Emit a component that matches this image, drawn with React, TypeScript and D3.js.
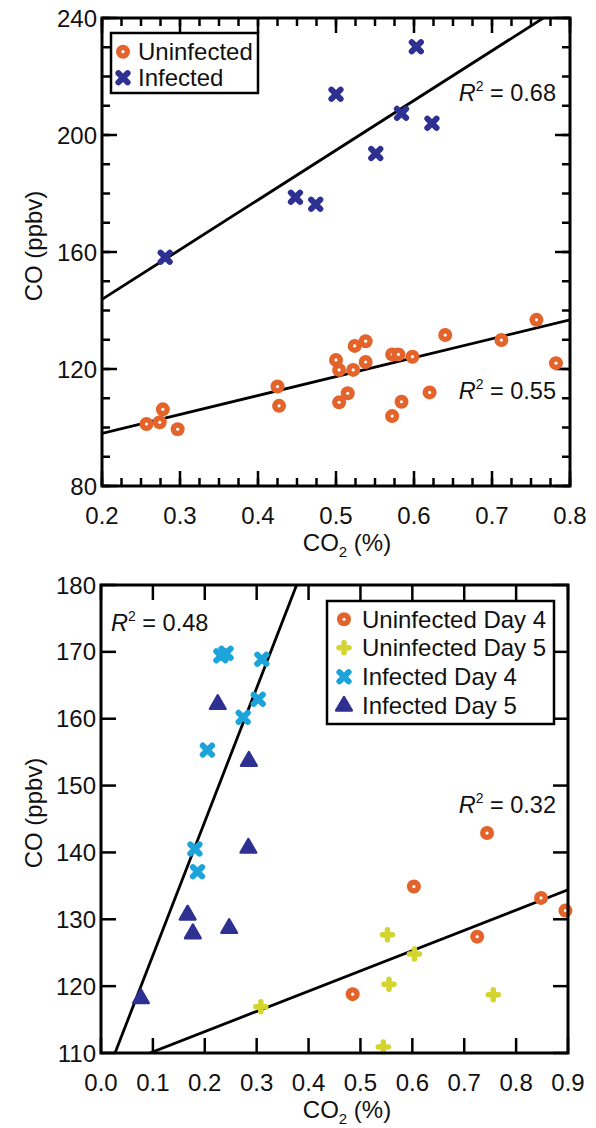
import React from 'react';
import * as d3 from 'd3';

const FONT = '"Liberation Sans", Arial, Helvetica, sans-serif';
const ORANGE = '#E4632B';
const NAVY = '#2E3192';
const CYAN = '#1BA3DA';
const YELLOW = '#D3D52E';

type Pt = [number, number];

// ---- top panel data (CO2 %, CO ppbv)
const uninfected: Pt[] = [
  [0.257, 101.2], [0.274, 101.8], [0.278, 106.2], [0.297, 99.4],
  [0.425, 114.0], [0.427, 107.4], [0.5, 123.1], [0.504, 119.7],
  [0.504, 108.6], [0.515, 111.7], [0.522, 119.7], [0.524, 127.9],
  [0.538, 129.5], [0.538, 122.4], [0.572, 103.9], [0.572, 125.0],
  [0.58, 125.0], [0.584, 108.8], [0.598, 124.2], [0.62, 112.0],
  [0.64, 131.6], [0.712, 129.9], [0.757, 136.8], [0.782, 122.0],
];
const infected: Pt[] = [
  [0.281, 158.2], [0.448, 178.7], [0.474, 176.3], [0.5, 213.9],
  [0.551, 193.7], [0.584, 207.4], [0.603, 230.2], [0.623, 204.0],
];
const topXTicks = [0.2, 0.3, 0.4, 0.5, 0.6, 0.7, 0.8];
const topYTicks = [80, 120, 160, 200, 240];

// ---- bottom panel data
const uninfectedDay4: Pt[] = [
  [0.485, 118.8], [0.603, 134.9], [0.725, 127.4], [0.744, 142.9],
  [0.848, 133.2], [0.895, 131.3],
];
const uninfectedDay5: Pt[] = [
  [0.308, 116.9], [0.544, 110.9], [0.552, 127.7], [0.555, 120.3],
  [0.604, 124.8], [0.756, 118.7],
];
const infectedDay4: Pt[] = [
  [0.181, 140.5], [0.186, 137.1], [0.205, 155.3], [0.231, 169.4],
  [0.241, 169.8], [0.274, 160.2], [0.303, 162.9], [0.31, 168.9],
];
const infectedDay5: Pt[] = [
  [0.077, 118.3], [0.167, 130.8], [0.177, 128.0], [0.225, 162.3],
  [0.247, 128.8], [0.284, 140.8], [0.285, 153.8],
];
const botXTicks = [0, 0.1, 0.2, 0.3, 0.4, 0.5, 0.6, 0.7, 0.8, 0.9];
const botYTicks = [110, 120, 130, 140, 150, 160, 170, 180];

// regression fits: [intercept, slope, R2]
const fitTopInfected = [109.8, 170, 0.68];
const fitTopUninfected = [85.06, 64.7, 0.55];
const fitBotInfected = [104.6, 200, 0.48];
const fitBotUninfected = [107.14, 30.3, 0.32];

type Kind = 'circle' | 'x' | 'plus' | 'tri';

const triPath = d3.symbol(d3.symbolTriangle, 105)() as string;

function Marker({ kind, color, x, y }: { kind: Kind; color: string; x: number; y: number }) {
  const t = `translate(${x},${y})`;
  if (kind === 'circle') {
    return (
      <g transform={t}>
        <circle r={7} fill={color} />
        <circle r={1.6} fill="#fff" />
      </g>
    );
  }
  if (kind === 'x') {
    return (
      <path transform={t} d="M-4.6,-4.6L4.6,4.6M-4.6,4.6L4.6,-4.6" stroke={color}
        strokeWidth={6} strokeLinecap="round" fill="none" />
    );
  }
  if (kind === 'plus') {
    return (
      <path transform={t} d="M-5,0H5M0,-5V5" stroke={color}
        strokeWidth={5.5} strokeLinecap="round" fill="none" />
    );
  }
  return (
    <path transform={`translate(${x},${y + 1})`} d={triPath} fill={color} stroke={color}
      strokeWidth={2.5} strokeLinejoin="round" />
  );
}

interface Series { data: Pt[]; kind: Kind; color: string; label: string }
interface Fit { p: number[]; lx: number; ly: number; anchor: 'start' | 'end' }

interface PanelProps {
  id: string;
  box: { left: number; right: number; top: number; bottom: number };
  xDomain: [number, number];
  yDomain: [number, number];
  xTicks: number[];
  yTicks: number[];
  xMinor: number[];
  yMinor: number[];
  xFmt: (d: number) => string;
  series: Series[];
  fits: Fit[];
  legend: { x0: number; y0: number; x1: number; y1: number; mx: number; tx: number; rows: number[] };
}

function Panel(props: PanelProps) {
  const { id, box, series, fits, legend } = props;
  const x = d3.scaleLinear().domain(props.xDomain).range([box.left, box.right]);
  const y = d3.scaleLinear().domain(props.yDomain).range([box.bottom, box.top]);
  const major = 15;
  const minor = 8;
  const tickStroke = 2.5;
  const line = d3.line<Pt>().x(d => x(d[0])).y(d => y(d[1]));
  const midY = (box.top + box.bottom) / 2;

  return (
    <g>
      <defs>
        <clipPath id={`clip-${id}`}>
          <rect x={box.left} y={box.top} width={box.right - box.left} height={box.bottom - box.top} />
        </clipPath>
      </defs>

      {/* ticks, inward on all four sides */}
      <g stroke="#000" strokeWidth={tickStroke}>
        {props.xMinor.map((v, i) => (
          <g key={`xm${i}`}>
            <line x1={x(v)} x2={x(v)} y1={box.bottom} y2={box.bottom - minor} />
            <line x1={x(v)} x2={x(v)} y1={box.top} y2={box.top + minor} />
          </g>
        ))}
        {props.yMinor.map((v, i) => (
          <g key={`ym${i}`}>
            <line x1={box.left} x2={box.left + minor} y1={y(v)} y2={y(v)} />
            <line x1={box.right} x2={box.right - minor} y1={y(v)} y2={y(v)} />
          </g>
        ))}
        {props.xTicks.map((v, i) => (
          <g key={`x${i}`}>
            <line x1={x(v)} x2={x(v)} y1={box.bottom} y2={box.bottom - major} />
            <line x1={x(v)} x2={x(v)} y1={box.top} y2={box.top + major} />
          </g>
        ))}
        {props.yTicks.map((v, i) => (
          <g key={`y${i}`}>
            <line x1={box.left} x2={box.left + major} y1={y(v)} y2={y(v)} />
            <line x1={box.right} x2={box.right - major} y1={y(v)} y2={y(v)} />
          </g>
        ))}
      </g>

      {/* tick labels */}
      <g fontFamily={FONT} fontSize={24} fill="#111">
        {props.xTicks.map((v, i) => (
          <text key={`xl${i}`} x={x(v)} y={box.bottom + 38} textAnchor="middle">{props.xFmt(v)}</text>
        ))}
        {props.yTicks.map((v, i) => (
          <text key={`yl${i}`} x={box.left - 5} y={y(v) + 8.5} textAnchor="end">{v}</text>
        ))}
        <text x={347} y={box.bottom + 65} textAnchor="middle">
          CO<tspan fontSize={15} dy={6}>2</tspan><tspan dy={-6}> (%)</tspan>
        </text>
        <text transform={`translate(42,${midY - 6}) rotate(-90)`} textAnchor="middle">CO (ppbv)</text>
      </g>

      {/* fit lines */}
      <g clipPath={`url(#clip-${id})`}>
        {fits.map((f, i) => {
          const pts: Pt[] = props.xDomain.map(v => [v, f.p[0] + f.p[1] * v] as Pt);
          return <path key={`f${i}`} d={line(pts) as string} stroke="#000" strokeWidth={2.8} fill="none" />;
        })}
      </g>

      {/* points */}
      {series.map((s, si) => (
        <g key={`s${si}`}>
          {s.data.map((d, i) => (
            <Marker key={i} kind={s.kind} color={s.color} x={x(d[0])} y={y(d[1])} />
          ))}
        </g>
      ))}

      {/* R2 labels */}
      <g fontFamily={FONT} fontSize={23.5} fill="#111">
        {fits.map((f, i) => (
          <text key={`r${i}`} x={f.lx} y={f.ly} textAnchor={f.anchor}>
            <tspan fontStyle="italic">R</tspan>
            <tspan fontSize={14} dy={-10}>2</tspan>
            <tspan dy={10}>{` = ${f.p[2].toFixed(2)}`}</tspan>
          </text>
        ))}
      </g>

      {/* legend */}
      <rect x={legend.x0} y={legend.y0} width={legend.x1 - legend.x0} height={legend.y1 - legend.y0}
        fill="#fff" stroke="#000" strokeWidth={2.5} />
      {series.map((s, i) => (
        <g key={`l${i}`}>
          <Marker kind={s.kind} color={s.color} x={legend.mx} y={legend.rows[i]} />
          <text x={legend.tx} y={legend.rows[i] + 8.5} fontFamily={FONT} fontSize={24} fill="#111">{s.label}</text>
        </g>
      ))}

      {/* frame */}
      <rect x={box.left} y={box.top} width={box.right - box.left} height={box.bottom - box.top}
        fill="none" stroke="#000" strokeWidth={3} />
    </g>
  );
}

const fmt1 = d3.format('.1f');

export default function App() {
  return (
    <svg width={596} height={1128} style={{ position: 'absolute', left: 0, top: 0, background: '#fff' }}>
      <Panel
        id="top"
        box={{ left: 102, right: 570, top: 18, bottom: 486 }}
        xDomain={[0.2, 0.8]}
        yDomain={[80, 240]}
        xTicks={topXTicks}
        yTicks={topYTicks}
        xMinor={d3.range(0, 25).map(i => 0.2 + i * 0.025)}
        yMinor={d3.range(80, 241, 10)}
        xFmt={fmt1}
        series={[
          { data: uninfected, kind: 'circle', color: ORANGE, label: 'Uninfected' },
          { data: infected, kind: 'x', color: NAVY, label: 'Infected' },
        ]}
        fits={[
          { p: fitTopInfected, lx: 556, ly: 101, anchor: 'end' },
          { p: fitTopUninfected, lx: 556, ly: 399, anchor: 'end' },
        ]}
        legend={{ x0: 111, y0: 33, x1: 258, y1: 93, mx: 123, tx: 138, rows: [51.7, 77.7] }}
      />
      <Panel
        id="bot"
        box={{ left: 101, right: 568, top: 585, bottom: 1053 }}
        xDomain={[0, 0.9]}
        yDomain={[110, 180]}
        xTicks={botXTicks}
        yTicks={botYTicks}
        xMinor={[]}
        yMinor={[]}
        xFmt={fmt1}
        series={[
          { data: uninfectedDay4, kind: 'circle', color: ORANGE, label: 'Uninfected Day 4' },
          { data: uninfectedDay5, kind: 'plus', color: YELLOW, label: 'Uninfected Day 5' },
          { data: infectedDay4, kind: 'x', color: CYAN, label: 'Infected Day 4' },
          { data: infectedDay5, kind: 'tri', color: NAVY, label: 'Infected Day 5' },
        ]}
        fits={[
          { p: fitBotInfected, lx: 111, ly: 631, anchor: 'start' },
          { p: fitBotUninfected, lx: 556, ly: 813, anchor: 'end' },
        ]}
        legend={{ x0: 327, y0: 601, x1: 554, y1: 724, mx: 344, tx: 362, rows: [619.3, 647.7, 676.7, 705] }}
      />
    </svg>
  );
}
